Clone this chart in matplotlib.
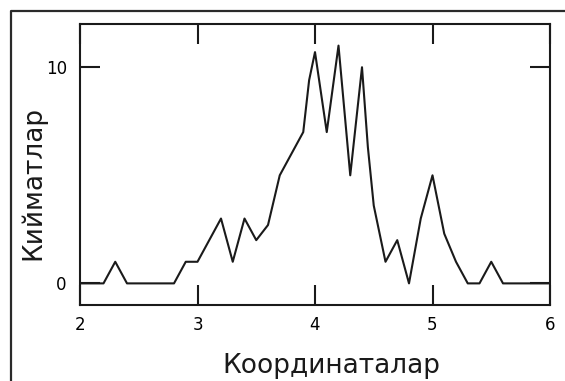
import matplotlib
matplotlib.use('Agg')
import matplotlib.pyplot as plt
from matplotlib.lines import Line2D

# values
coords = [2.0, 2.2, 2.3, 2.4, 2.8, 2.9, 3.0, 3.1, 3.2, 3.3, 3.4, 3.5, 3.6,
          3.7, 3.8, 3.9, 3.95, 4.0, 4.1, 4.2, 4.3, 4.4, 4.45, 4.5, 4.6,
          4.7, 4.8, 4.9, 5.0, 5.1, 5.2, 5.3, 5.4, 5.5, 5.6, 6.0]
values = [0, 0, 1, 0, 0, 1, 1, 2, 3, 1, 3, 2, 2.7,
          5, 6, 7, 9.4, 10.7, 7, 11, 5, 10, 6.3, 3.6, 1,
          2, 0, 3, 5, 2.3, 1, 0, 0, 1, 0, 0]
xticks = [2, 3, 4, 5, 6]
yticks = [0, 10]
xlabel = 'Координаталар'
ylabel = 'Кийматлар'

W, H = 565, 381
fig = plt.figure(figsize=(W / 100, H / 100), dpi=100)
ax = fig.add_axes([80 / W, 1 - 305 / H, 470 / W, 281 / H])

ax.plot(coords, values, color='#1a1a1a', lw=1.5)
ax.set_xlim(2, 6)
ax.set_ylim(-1, 12)
ax.set_xticks(xticks)
ax.set_yticks(yticks)

for s in ax.spines.values():
    s.set_linewidth(1.5)
    s.set_color('#1a1a1a')
ax.tick_params(direction='in', length=14.5, width=1.5, color='#1a1a1a',
               top=True, right=True, labelsize=12, pad=8)
ax.tick_params(axis='y', pad=9.5)

# axis titles placed as in the reference
fig.text(331 / W, 1 - 373 / H, xlabel, ha='center', va='baseline',
         fontsize=19, color='#1a1a1a')
fig.text(33 / W, 1 - 183 / H, ylabel, ha='center', va='center',
         rotation=90, fontsize=19, color='#1a1a1a')

# outer frame (only top and left edges are inside the picture)
fig.add_artist(Line2D([11 / W, 11 / W, 1.0], [0.0, 1 - 11 / H, 1 - 11 / H],
                      transform=fig.transFigure, color='#2a2a2a', lw=1.6))

fig.savefig('out.png', dpi=100)
